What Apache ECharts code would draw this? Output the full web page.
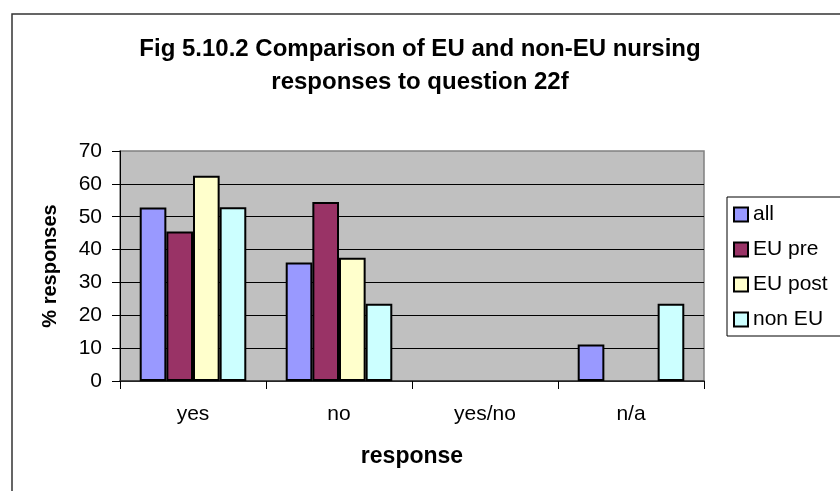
<!DOCTYPE html>
<html>
<head>
<meta charset="utf-8">
<script src="https://cdn.jsdelivr.net/npm/echarts@6/dist/echarts.min.js"></script>
<style>
html,body{margin:0;padding:0;background:#fff;}
#chart{width:840px;height:491px;}
</style>
</head>
<body>
<div id="chart"></div>
<script>
var categories = ['yes', 'no', 'yes/no', 'n/a'];
var seriesNames = ['all', 'EU pre', 'EU post', 'non EU'];
var allValues = [52.8, 36.1, null, 11.1];
var euPreValues = [45.5, 54.5, null, null];
var euPostValues = [62.5, 37.5, null, null];
var nonEuValues = [52.9, 23.5, null, 23.5];
var yTicks = [0, 10, 20, 30, 40, 50, 60, 70];

var colors = ['#9999FF', '#993366', '#FFFFCC', '#CCFFFF'];
var seriesValues = [allValues, euPreValues, euPostValues, nonEuValues];
var FONT = 'Liberation Sans, Arial, sans-serif';

var chart = echarts.init(document.getElementById('chart'), null, {renderer: 'canvas'});
chart.setOption({
  animation: false,
  backgroundColor: '#fff',
  title: {
    text: 'Fig 5.10.2 Comparison of EU and non-EU nursing\nresponses to question 22f',
    left: 'center',
    top: 28,
    textStyle: {fontFamily: FONT, fontWeight: 'bold', fontSize: 24, lineHeight: 33, color: '#000', align: 'center'}
  },
  graphic: [
    {type: 'rect', shape: {x: 12, y: 14, width: 900, height: 600}, style: {fill: 'none', stroke: '#333', lineWidth: 1.5}, z: 0},
    {type: 'rect', shape: {x: 727, y: 197, width: 200, height: 139}, style: {fill: '#fff', stroke: '#000', lineWidth: 1}, z: 1}
  ],
  legend: {
    orient: 'vertical',
    left: 733,
    top: 204,
    itemWidth: 14,
    itemHeight: 14,
    itemGap: 14,
    icon: 'rect',
    padding: 0,
    z: 5,
    textStyle: {fontFamily: FONT, fontSize: 21, color: '#000'},
    data: seriesNames
  },
  grid: {
    left: 120, right: 136, top: 151, bottom: 110,
    show: true, backgroundColor: '#C0C0C0', borderColor: '#808080', borderWidth: 1.5
  },
  xAxis: {
    type: 'category',
    data: categories,
    name: 'response',
    nameLocation: 'middle',
    nameGap: 64,
    nameTextStyle: {fontFamily: FONT, fontWeight: 'bold', fontSize: 23, color: '#000'},
    axisLine: {lineStyle: {color: '#333', width: 1.5}},
    axisTick: {show: true, length: 8, lineStyle: {color: '#000'}},
    axisLabel: {fontFamily: FONT, fontSize: 21, color: '#000', margin: 23},
    splitLine: {show: false}
  },
  yAxis: {
    type: 'value',
    min: 0, max: 70, interval: 10,
    name: '% responses',
    nameLocation: 'middle',
    nameGap: 60,
    nameRotate: 90,
    nameTextStyle: {fontFamily: FONT, fontWeight: 'bold', fontSize: 20, color: '#000'},
    axisLine: {show: true, lineStyle: {color: '#000', width: 1}},
    axisTick: {show: true, length: 8, lineStyle: {color: '#000'}},
    axisLabel: {fontFamily: FONT, fontSize: 21, color: '#000', margin: 18,
      formatter: function (v) { return yTicks.indexOf(v) >= 0 ? String(v) : ''; }},
    splitLine: {show: true, showMaxLine: false, lineStyle: {color: '#000', width: 1}}
  },
  series: seriesNames.map(function (n, i) {
    return {
      name: n,
      type: 'bar',
      data: seriesValues[i],
      barGap: '0%',
      barCategoryGap: '27%',
      itemStyle: {color: colors[i], borderColor: '#000', borderWidth: 2}
    };
  })
});
</script>
</body>
</html>
